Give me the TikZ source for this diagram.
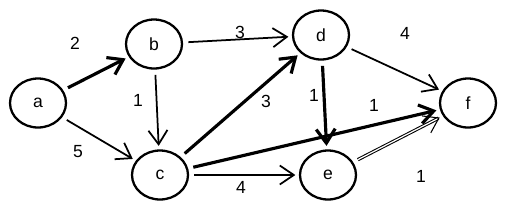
\documentclass[tikz,border=0pt]{standalone}
\usepackage{fontspec}
\setmainfont{Liberation Sans}
\usepackage{tikz}
\usetikzlibrary{arrows.meta,shapes.geometric}

\begin{document}
\begin{tikzpicture}[x=0.02cm,y=-0.02cm,
  vtx/.style={draw,ellipse,line width=1.3pt,minimum width=1.12cm,minimum height=0.98cm,inner sep=0pt,font=\normalsize},
  wt/.style={font=\normalsize},
  ar/.style={-{Straight Barb[length=2.8mm,width=3.8mm]},line width=1pt,shorten <=3pt,shorten >=2pt},
  hv/.style={ar,line width=1.8pt}]
  \useasboundingbox (0,0) rectangle (507,214);
  \node[vtx] (a) at (38,103) {a};
  \node[vtx] (b) at (154,44) {b};
  \node[vtx] (c) at (160,175) {c};
  \node[vtx] (d) at (321,35) {d};
  \node[vtx] (e) at (328,175) {e};
  \node[vtx] (f) at (468,103) {f};
  \node[wt] (lab) at (75,43) {2};
  \node[wt] (lbd) at (240,32) {3};
  \node[wt] (lac) at (78,152) {5};
  \node[wt] (lbc) at (138,100) {1};
  \node[wt] (lcd) at (266,101) {3};
  \node[wt] (ldf) at (405,33) {4};
  \node[wt] (lde) at (314,95) {1};
  \node[wt] (lcf) at (374,105) {1};
  \node[wt] (lce) at (241,187) {4};
  \node[wt] (lef) at (421,176) {1};
  \draw[hv] (a) -- (b);
  \draw[ar] (b) -- (d);
  \draw[ar] (a) -- (c);
  \draw[ar] (b) -- (c);
  \draw[hv] (c) -- (d);
  \draw[ar] (d) -- (f);
  \draw[hv] (d) -- (e);
  \draw[hv] (c) -- (f);
  \draw[ar] (c) -- (e);
  \draw[ar,double,double distance=0.7pt,line width=0.6pt] (e) -- (f);
\end{tikzpicture}
\end{document}
